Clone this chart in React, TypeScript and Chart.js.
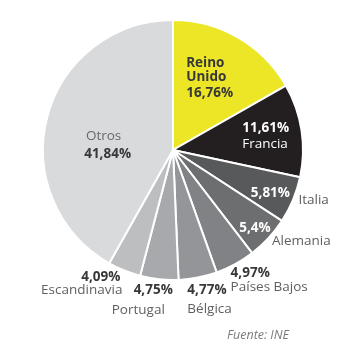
import React, { useEffect, useRef } from 'react';
import { Chart, registerables } from 'chart.js';

Chart.register(...registerables);

const categories = ['Reino Unido', 'Francia', 'Italia', 'Alemania', 'Países Bajos', 'Bélgica', 'Portugal', 'Escandinavia', 'Otros'];
const values = [16.76, 11.61, 5.81, 5.4, 4.97, 4.77, 4.75, 4.09, 41.84];
const valueLabels = ['16,76%', '11,61%', '5,81%', '5,4%', '4,97%', '4,77%', '4,75%', '4,09%', '41,84%'];
const nameLines = [['Reino', 'Unido'], ['Francia'], ['Italia'], ['Alemania'], ['Países Bajos'], ['Bélgica'], ['Portugal'], ['Escandinavia'], ['Otros']];
const sliceColors = ['#ece626', '#231f20', '#58595b', '#6d6e70', '#818285', '#939598', '#a7a9ac', '#bcbec0', '#d9dadc'];
const sourceText = 'Fuente: INE';

const FONT = '"Open Sans", sans-serif';
const DARK = '#38383a';
const WHITE = '#ffffff';
const GRAY = '#5e5f61';

type Line = { text: string; bold: boolean; color: string; dx: number; dy: number; align: CanvasTextAlign };
type Layout = { rf: number; lines: Line[] };

const labelLayout: Layout[] = [
  { rf: 0.6, lines: [
    { text: nameLines[0][0], bold: true, color: DARK, dx: -26, dy: -19, align: 'left' },
    { text: nameLines[0][1], bold: true, color: DARK, dx: -26, dy: -5, align: 'left' },
    { text: valueLabels[0], bold: true, color: DARK, dx: -26, dy: 11, align: 'left' },
  ] },
  { rf: 0.71, lines: [
    { text: valueLabels[1], bold: true, color: WHITE, dx: -22, dy: -8, align: 'left' },
    { text: nameLines[1][0], bold: false, color: WHITE, dx: -22, dy: 8, align: 'left' },
  ] },
  { rf: 0.82, lines: [
    { text: valueLabels[2], bold: true, color: WHITE, dx: -1, dy: 2, align: 'center' },
    { text: nameLines[2][0], bold: false, color: GRAY, dx: 27, dy: 9, align: 'left' },
  ] },
  { rf: 0.87, lines: [
    { text: valueLabels[3], bold: true, color: WHITE, dx: -1, dy: 1, align: 'center' },
    { text: nameLines[3][0], bold: false, color: GRAY, dx: 16, dy: 14, align: 'left' },
  ] },
  { rf: 1.12, lines: [
    { text: valueLabels[4], bold: true, color: DARK, dx: -12, dy: -5, align: 'left' },
    { text: nameLines[4][0], bold: false, color: GRAY, dx: -12, dy: 9, align: 'left' },
  ] },
  { rf: 1.1, lines: [
    { text: valueLabels[5], bold: true, color: DARK, dx: -13, dy: 0, align: 'left' },
    { text: nameLines[5][0], bold: false, color: GRAY, dx: -13, dy: 19, align: 'left' },
  ] },
  { rf: 1.1, lines: [
    { text: valueLabels[6], bold: true, color: DARK, dx: 15, dy: -2, align: 'right' },
    { text: nameLines[6][0], bold: false, color: GRAY, dx: 7, dy: 18, align: 'right' },
  ] },
  { rf: 1.1, lines: [
    { text: valueLabels[7], bold: true, color: DARK, dx: 1, dy: -5, align: 'right' },
    { text: nameLines[7][0], bold: false, color: GRAY, dx: 3, dy: 8, align: 'right' },
  ] },
  { rf: 0.52, lines: [
    { text: nameLines[8][0], bold: false, color: '#69696b', dx: -4, dy: 3, align: 'center' },
    { text: valueLabels[8], bold: true, color: DARK, dx: 0, dy: 21, align: 'center' },
  ] },
];

const labelPlugin = {
  id: 'sliceLabels',
  afterDatasetsDraw(chart: any) {
    const ctx = chart.ctx as CanvasRenderingContext2D;
    const meta = chart.getDatasetMeta(0);
    ctx.save();
    ctx.textBaseline = 'middle';
    meta.data.forEach((arc: any, i: number) => {
      const p = arc.getProps(['x', 'y', 'startAngle', 'endAngle', 'outerRadius'], true);
      const mid = (p.startAngle + p.endAngle) / 2;
      const lay = labelLayout[i];
      const r = p.outerRadius * lay.rf;
      const ax = p.x + Math.cos(mid) * r;
      const ay = p.y + Math.sin(mid) * r;
      lay.lines.forEach((ln) => {
        ctx.font = `${ln.bold ? '700' : '400'} 13.5px ${FONT}`;
        ctx.fillStyle = ln.color;
        ctx.textAlign = ln.align;
        ctx.fillText(ln.text, ax + ln.dx, ay + ln.dy);
      });
    });
    ctx.font = `italic 400 12.5px ${FONT}`;
    ctx.fillStyle = '#7a7b7d';
    ctx.textAlign = 'right';
    ctx.fillText(sourceText, 289, 335);
    ctx.restore();
  },
};

export default function App() {
  const ref = useRef<HTMLCanvasElement | null>(null);
  useEffect(() => {
    if (!ref.current) return;
    const chart = new Chart(ref.current, {
      type: 'pie',
      data: {
        labels: categories,
        datasets: [{
          data: values,
          backgroundColor: sliceColors,
          borderColor: '#ffffff',
          borderWidth: 2,
        }],
      },
      options: {
        responsive: false,
        animation: false,
        layout: { padding: { left: 42, right: 56, top: 19, bottom: 79 } },
        plugins: { legend: { display: false }, tooltip: { enabled: false } },
      },
      plugins: [labelPlugin],
    });
    return () => chart.destroy();
  }, []);
  return (
    <div style={{ position: 'absolute', left: 0, top: 0, width: 360, height: 360, background: '#fff' }}>
      <canvas ref={ref} width={360} height={360} style={{ width: 360, height: 360 }} />
    </div>
  );
}
